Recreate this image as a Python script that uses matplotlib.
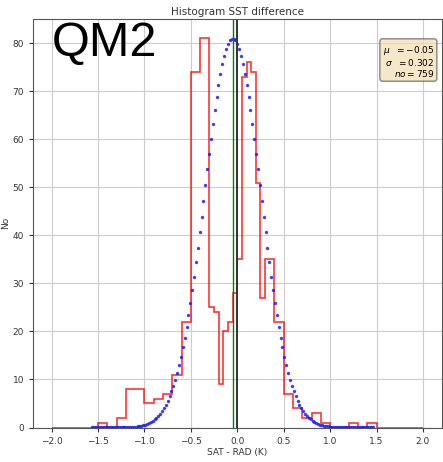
import numpy as np
import matplotlib
matplotlib.use("Agg")
import matplotlib.pyplot as plt

# histogram of SAT - RAD differences (bin edges and counts)
edges = [-2.0, -1.5, -1.4, -1.3, -1.2, -1.0, -0.9, -0.8, -0.7, -0.6, -0.5,
         -0.4, -0.3, -0.25, -0.2, -0.15, -0.1, -0.05, 0.0, 0.05, 0.1, 0.15,
         0.2, 0.25, 0.3, 0.4, 0.5, 0.6, 0.7, 0.8, 0.9, 1.0, 1.2, 1.3, 1.4,
         1.5, 2.0]
counts = [0, 1, 0, 2, 8, 5, 6, 7, 11, 22,
          74, 81, 25, 24, 9, 20, 22, 28, 35, 73,
          76, 74, 51, 27, 35, 22, 7, 4, 2, 3,
          1, 0, 1, 0, 1, 0]

# fit statistics
mu = -0.05
sigma = 0.302
n_obs = 759

xticks = [-2.0, -1.5, -1.0, -0.5, 0.0, 0.5, 1.0, 1.5, 2.0]
yticks = [0, 10, 20, 30, 40, 50, 60, 70, 80]

fig = plt.figure(figsize=(4.43, 4.62), dpi=100)
ax = fig.add_subplot(111)
fig.subplots_adjust(left=33/443, right=441.5/443, top=1-19/462, bottom=1-427.5/462)

ax.stairs(counts, edges, color='red', lw=1.2, alpha=0.8)

# gaussian scaled to the histogram peak
xg = np.linspace(mu - 5*sigma, mu + 5*sigma, 150)
yg = max(counts) * np.exp(-0.5 * ((xg - mu) / sigma) ** 2)
ax.plot(xg, yg, 'o', color='#1a1aff', markersize=2.4, alpha=0.85, markeredgewidth=0)

ax.axvline(mu, color='green', lw=1.0)
ax.axvline(0.0, color='#333333', lw=1.4)

ax.set_xlim(-2.2, 2.2)
ax.set_ylim(0, 85.05)
ax.set_xticks(xticks)
ax.set_yticks(yticks)
ax.tick_params(labelsize=6.5, colors='#333333', length=3)
ax.grid(True, color='#cccccc', lw=0.8)
ax.set_axisbelow(True)
for s in ax.spines.values():
    s.set_color('#555555')

ax.set_title('Histogram SST difference', fontsize=7.5, color='#333333', pad=3)
ax.set_xlabel('SAT - RAD (K)', fontsize=6.5, color='#333333', labelpad=2)
ax.set_ylabel('No', fontsize=6.5, color='#333333', labelpad=2)

textstr = '\n'.join((r'$\mu\ \ = %.2f$' % mu,
                     r'$\sigma\ \ =%.3f$' % sigma,
                     r'$no=%d$' % n_obs))
props = dict(boxstyle='round', facecolor='wheat', alpha=0.7, edgecolor='#555555')
ax.text(0.982, 0.94, textstr, transform=ax.transAxes, fontsize=6.5,
        va='top', ha='right', bbox=props, linespacing=1.0)

fig.text(52/443, 1 - 56/462, 'QM2', fontsize=35, family='Liberation Sans',
         color='black', ha='left', va='baseline')

fig.savefig('out.png', dpi=100)
